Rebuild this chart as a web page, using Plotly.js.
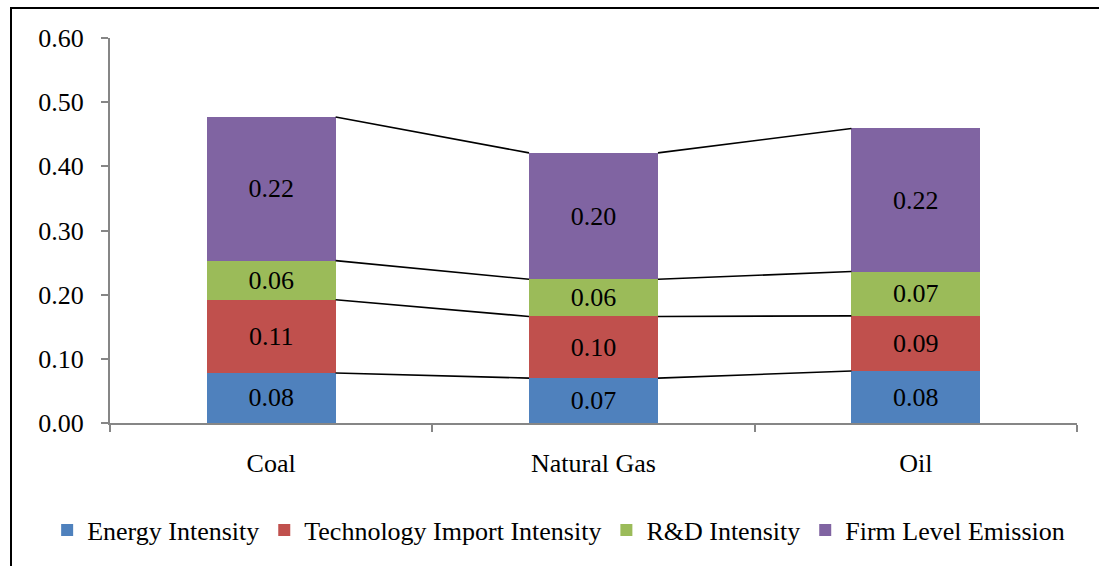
<!DOCTYPE html>
<html>
<head>
<meta charset="utf-8">
<script src="https://cdn.plot.ly/plotly-3.0.1.min.js"></script>
<style>
  html, body { margin: 0; padding: 0; background: #fff; overflow: hidden; }
  #wrap { position: relative; width: 1099px; height: 566px; }
  #chart { width: 1099px; height: 566px; }
  #frame { position: absolute; left: 10px; top: 7px; width: 1200px; height: 700px;
           border: 2px solid #000; pointer-events: none; }
</style>
</head>
<body>
<div id="wrap"><div id="chart"></div><div id="frame"></div></div>
<script>
const categories = ["Coal", "Natural Gas", "Oil"];
const seriesNames = ["Energy Intensity", "Technology Import Intensity", "R&D Intensity", "Firm Level Emission"];
const energyIntensity = [0.078, 0.070, 0.081];
const techImportIntensity = [0.114, 0.096, 0.086];
const rdIntensity = [0.061, 0.058, 0.069];
const firmLevelEmission = [0.224, 0.197, 0.223];
const yTickVals = [0, 0.1, 0.2, 0.3, 0.4, 0.5, 0.6];

const seriesValues = [energyIntensity, techImportIntensity, rdIntensity, firmLevelEmission];
const colors = ["#4F81BD", "#C0504D", "#9BBB59", "#8064A2"];
const FONT = "Liberation Serif";
const bargap = 0.6;
const halfW = (1 - bargap) / 2;

const traces = [];
seriesValues.forEach((vals, s) => {
  traces.push({
    type: "bar",
    name: seriesNames[s],
    x: categories,
    y: vals,
    marker: { color: colors[s], line: { width: 0 } },
    text: vals.map(v => v.toFixed(2)),
    textposition: "inside",
    insidetextanchor: "middle",
    textfont: { family: FONT, size: 26, color: "#000" },
    constraintext: "none",
    hoverinfo: "skip"
  });
});

// series lines connecting the segment tops between adjacent bars
const cum = categories.map(() => 0);
seriesValues.forEach((vals) => {
  const tops = vals.map((v, i) => (cum[i] += v));
  const xs = [], ys = [];
  for (let i = 0; i < categories.length - 1; i++) {
    xs.push(i + halfW, i + 1 - halfW, null);
    ys.push(tops[i], tops[i + 1], null);
  }
  traces.push({
    type: "scatter", mode: "lines", xaxis: "x2", yaxis: "y",
    x: xs, y: ys, showlegend: false, hoverinfo: "skip",
    line: { color: "#000", width: 1.6 }
  });
});

const layout = {
  width: 1099, height: 566,
  margin: { l: 110, r: 22, t: 38, b: 143 },
  paper_bgcolor: "#fff", plot_bgcolor: "#fff",
  barmode: "stack",
  bargap: bargap,
  showlegend: true,
  font: { family: FONT, size: 26, color: "#000" },
  xaxis: {
    type: "category",
    range: [-0.5, 2.5],
    showline: true, linecolor: "#868686", linewidth: 2,
    ticks: "outside", ticklen: 7, tickcolor: "#868686", tickwidth: 2,
    tickson: "boundaries",
    showgrid: false, zeroline: false,
    ticklabelstandoff: 16,
    tickfont: { family: FONT, size: 26, color: "#000" }
  },
  xaxis2: {
    overlaying: "x", range: [-0.5, 2.5], visible: false, fixedrange: true
  },
  yaxis: {
    range: [0, 0.6],
    tickvals: yTickVals,
    ticktext: yTickVals.map(v => v.toFixed(2)),
    showline: true, linecolor: "#868686", linewidth: 2,
    ticks: "outside", ticklen: 7, tickcolor: "#868686", tickwidth: 2,
    showgrid: false, zeroline: false,
    ticklabelstandoff: 12,
    tickfont: { family: FONT, size: 26, color: "#000" }
  },
  legend: {
    orientation: "h",
    x: -0.065, xanchor: "left",
    y: -0.278, yanchor: "middle",
    font: { family: FONT, size: 26, color: "#000" },
    traceorder: "normal",
    bgcolor: "rgba(0,0,0,0)"
  }
};

Plotly.newPlot("chart", traces, layout, { displayModeBar: false, staticPlot: true });
</script>
</body>
</html>
